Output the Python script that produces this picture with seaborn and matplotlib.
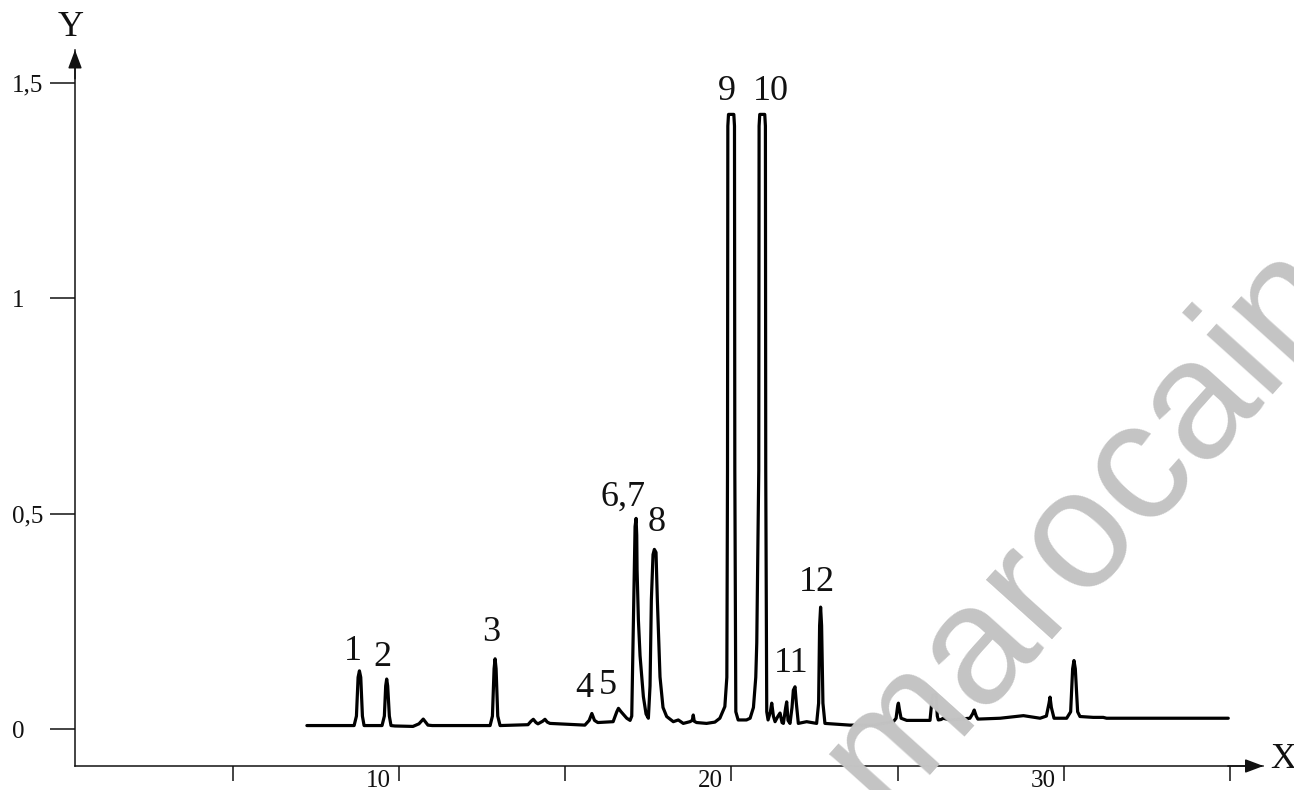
import matplotlib
matplotlib.use("Agg")
import matplotlib.pyplot as plt
import matplotlib.transforms as mtrans
import pandas as pd
import seaborn as sns

# ---- data ----
retention_time = [
    7.23, 8.65, 8.72, 8.77, 8.81, 8.85, 8.90, 8.95,
    9.49, 9.56, 9.60, 9.63, 9.66, 9.71, 9.76, 9.88,
    10.42, 10.60, 10.73, 10.87, 11.00,
    12.74, 12.81, 12.86, 12.89, 12.92, 12.97, 13.04,
    13.88, 13.97, 14.04, 14.12, 14.18, 14.32, 14.39, 14.46, 14.54, 15.04,
    15.59, 15.72, 15.80, 15.88, 15.98, 16.44, 16.55, 16.60, 16.68, 16.85, 16.95,
    17.00, 17.06, 17.10, 17.13, 17.15, 17.16, 17.20, 17.25, 17.35, 17.43, 17.50,
    17.55, 17.59, 17.64, 17.68, 17.73, 17.77, 17.85, 17.94, 18.05, 18.25,
    18.40, 18.55, 18.75, 18.82, 18.85, 18.88, 18.95, 19.25, 19.50, 19.65,
    19.80, 19.86, 19.88, 19.89, 19.91, 20.07, 20.09, 20.10, 20.13, 20.20,
    20.45, 20.56, 20.66, 20.73, 20.76, 20.82, 20.83, 20.85, 21.00, 21.02, 21.03, 21.06, 21.10,
    21.17, 21.21, 21.26, 21.31, 21.40, 21.46, 21.52, 21.56, 21.63, 21.66, 21.70,
    21.76, 21.82, 21.86, 21.91, 21.95, 22.01, 22.26, 22.56,
    22.62, 22.65, 22.68, 22.71, 22.75, 22.81, 23.56, 24.26,
    24.87, 24.95, 25.00, 25.02, 25.05, 25.10, 25.27, 25.97,
    26.02, 26.05, 26.15, 26.19, 26.22, 26.30, 26.37, 26.57,
    27.17, 27.25, 27.30, 27.36, 27.41, 28.08, 28.78, 29.28,
    29.47, 29.55, 29.58, 29.62, 29.70, 29.78, 30.08,
    30.20, 30.26, 30.30, 30.34, 30.41, 30.48, 30.88, 31.18, 31.28, 34.94,
]
absorbance = [
    0.008, 0.008, 0.030, 0.120, 0.135, 0.120, 0.030, 0.008,
    0.008, 0.030, 0.100, 0.116, 0.100, 0.030, 0.008, 0.007,
    0.006, 0.012, 0.023, 0.009, 0.008,
    0.008, 0.030, 0.140, 0.163, 0.140, 0.030, 0.008,
    0.010, 0.018, 0.0225, 0.015, 0.012, 0.018, 0.0225, 0.016, 0.013, 0.011,
    0.009, 0.020, 0.036, 0.020, 0.015, 0.017, 0.040, 0.048, 0.040, 0.025, 0.020,
    0.030, 0.300, 0.470, 0.489, 0.450, 0.370, 0.253, 0.170, 0.075, 0.035, 0.025,
    0.100, 0.300, 0.405, 0.417, 0.410, 0.300, 0.121, 0.050, 0.029, 0.017,
    0.021, 0.013, 0.017, 0.020, 0.0325, 0.018, 0.015, 0.013, 0.016, 0.025,
    0.052, 0.120, 0.600, 1.400, 1.427, 1.427, 1.400, 0.600, 0.040, 0.021,
    0.021, 0.025, 0.050, 0.120, 0.200, 0.600, 1.400, 1.427, 1.427, 1.400, 0.600, 0.040, 0.021,
    0.040, 0.060, 0.030, 0.017, 0.030, 0.037, 0.015, 0.013, 0.050, 0.063, 0.020,
    0.013, 0.050, 0.090, 0.098, 0.060, 0.013, 0.017, 0.013,
    0.060, 0.240, 0.283, 0.240, 0.060, 0.013, 0.009, 0.009,
    0.017, 0.025, 0.055, 0.060, 0.045, 0.025, 0.020, 0.020,
    0.060, 0.079, 0.079, 0.030, 0.021, 0.022, 0.025, 0.021,
    0.025, 0.035, 0.044, 0.030, 0.023, 0.025, 0.031, 0.025,
    0.030, 0.060, 0.074, 0.050, 0.025, 0.025, 0.025,
    0.040, 0.140, 0.159, 0.140, 0.040, 0.029, 0.027, 0.027, 0.025, 0.025,
]

peak_labels = ["1", "2", "3", "4", "5", "6,7", "8", "9", "10", "11", "12"]
peak_label_x = [8.62, 9.49, 12.77, 15.56, 16.29, 16.74, 17.76, 19.86, 21.19, 21.79, 22.57]
peak_label_y = [0.180, 0.166, 0.225, 0.095, 0.102, 0.539, 0.479, 1.481, 1.481, 0.153, 0.339]

x_ticks = [5, 10, 15, 20, 25, 30, 35]
x_tick_labels = ["", "10", "", "20", "", "30", ""]
y_ticks = [0, 0.5, 1, 1.5]
y_tick_labels = ["0", "0,5", "1", "1,5"]

# ---- figure ----
sns.set_theme(style="white")
plt.rcParams["font.family"] = ["Liberation Serif", "DejaVu Serif"]

W, H = 1294, 790
INK = "#111111"
fig = plt.figure(figsize=(W / 100, H / 100), dpi=100)
ax = fig.add_axes([75 / W, 24 / H, (1263.5 - 75) / W, 716 / H])

df = pd.DataFrame({"t": retention_time, "a": absorbance})
sns.lineplot(data=df, x="t", y="a", ax=ax, color="black", linewidth=2.3,
             estimator=None, sort=False)
for line in ax.lines:
    line.set_solid_joinstyle("round")
    line.set_solid_capstyle("round")

ax.set_xlim(0.256, 36.0)
ax.set_ylim(-0.0859, 1.5765)
ax.set_xlabel("")
ax.set_ylabel("")

for s in ["top", "right"]:
    ax.spines[s].set_visible(False)
for s in ["left", "bottom"]:
    ax.spines[s].set_color(INK)
    ax.spines[s].set_linewidth(1.1)

ax.set_xticks(x_ticks)
ax.set_xticklabels(x_tick_labels)
ax.set_yticks(y_ticks)
ax.set_yticklabels(y_tick_labels)
ax.tick_params(axis="x", bottom=True, direction="out", length=10.8, width=1.1,
               color=INK, pad=-8, labelsize=18, labelcolor=INK)
ax.tick_params(axis="y", left=True, direction="out", length=18, width=1.1,
               color=INK, pad=27.4, labelsize=18, labelcolor=INK)
shift = mtrans.ScaledTranslation(-21 / 100, 0, fig.dpi_scale_trans)
for lbl in ax.get_xticklabels():
    lbl.set_transform(lbl.get_transform() + shift)
for lbl in ax.get_yticklabels():
    lbl.set_horizontalalignment("left")

# axis arrows
arrow = dict(arrowstyle="-|>,head_length=0.8,head_width=0.3", color=INK,
             lw=1.1, mutation_scale=14, shrinkA=0, shrinkB=0)
ax.annotate("", xy=(1.0, 0.0), xytext=(0.97, 0.0), xycoords="axes fraction",
            arrowprops=arrow, annotation_clip=False)
ax.annotate("", xy=(0.0, 1.0), xytext=(0.0, 0.96), xycoords="axes fraction",
            arrowprops=arrow, annotation_clip=False)

fig.text(71 / W, 1 - 28 / H, "Y", fontsize=26, ha="center", va="center", color=INK)
fig.text(1283 / W, 1 - 760 / H, "X", fontsize=26, ha="center", va="center", color=INK)

for lab, lx, ly in zip(peak_labels, peak_label_x, peak_label_y):
    ax.text(lx, ly, lab, fontsize=26, ha="center", va="center", color=INK)

# watermark
fig.text(1085 / W, 1 - 525 / H, "marocain", rotation=48, rotation_mode="anchor",
         fontsize=122, family=["Liberation Sans", "DejaVu Sans"], color="#c4c4c4",
         ha="center", va="center", zorder=10)

fig.savefig("out.png", dpi=100)
